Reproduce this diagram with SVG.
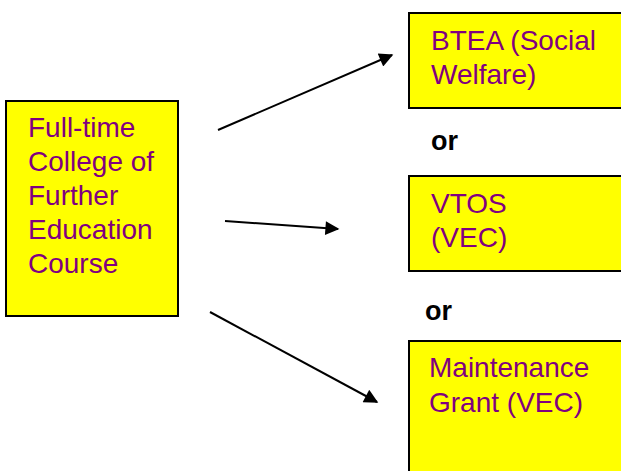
<svg xmlns="http://www.w3.org/2000/svg" width="621" height="471" viewBox="0 0 621 471">
<style>
.box{fill:#ffff00;stroke:#000;stroke-width:2}
.t{font-family:"Liberation Sans",Arial,sans-serif;font-size:28px;fill:#800080}
.or{font-family:"Liberation Sans",Arial,sans-serif;font-size:27px;font-weight:bold;fill:#000}
.conn{stroke:#000;stroke-width:2;fill:none;marker-end:url(#ah)}
</style>
<defs>
<marker id="ah" viewBox="0 0 10 10" refX="9" refY="5" markerWidth="8.5" markerHeight="7" markerUnits="strokeWidth" orient="auto">
<path d="M0,0 L10,5 L0,10 z" fill="#000"/>
</marker>
</defs>
<rect width="621" height="471" fill="#fff"/>
<g id="fcfe">
<rect class="box" x="6" y="101" width="172" height="215"/>
<text class="t" x="28" y="137">Full-time</text>
<text class="t" x="28" y="171">College of</text>
<text class="t" x="28" y="205">Further</text>
<text class="t" x="28" y="239">Education</text>
<text class="t" x="28" y="273">Course</text>
</g>
<g id="btea">
<rect class="box" x="409" y="13" width="220" height="95"/>
<text class="t" x="431" y="50">BTEA (Social</text>
<text class="t" x="431" y="84">Welfare)</text>
</g>
<g id="vtos">
<rect class="box" x="409" y="176" width="220" height="95"/>
<text class="t" x="431" y="213">VTOS</text>
<text class="t" x="431" y="247">(VEC)</text>
</g>
<g id="grant">
<rect class="box" x="409" y="341" width="220" height="140"/>
<text class="t" x="429" y="377">Maintenance</text>
<text class="t" x="429" y="412">Grant (VEC)</text>
</g>
<g id="labels">
<text class="or" x="431" y="150">or</text>
<text class="or" x="425" y="320">or</text>
</g>
<g id="connectors">
<line class="conn" x1="218" y1="130" x2="392" y2="55"/>
<line class="conn" x1="225" y1="221" x2="338" y2="229"/>
<line class="conn" x1="210" y1="312" x2="377" y2="402"/>
</g>
</svg>
